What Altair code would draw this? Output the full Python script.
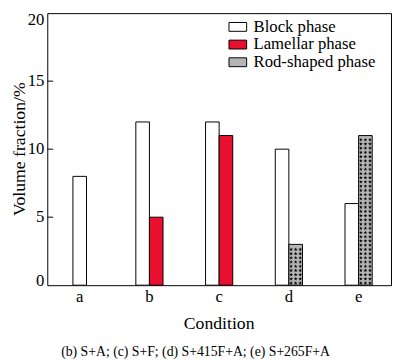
import altair as alt
import pandas as pd

# ---- data ----
categories = ["a", "b", "c", "d", "e"]
phases = ["Block phase", "Lamellar phase", "Rod-shaped phase"]
block = [8, 12, 12, 10, 6]
lamellar = [0, 5, 11, 0, 0]
rod = [0, 0, 0, 3, 11]
y_ticks = [0, 5, 10, 15, 20]
inner_ticks = [5, 10, 15]
x_title = "Condition"
y_title = "Volume fraction/%"
footnote = "(b) S+A; (c) S+F; (d) S+415F+A; (e) S+265F+A"

phase_colors = ["#ffffff", "#e8102e", "#b5b5b5"]
FONT = "Liberation Serif"
BAR_W = 0.195
W, H = 350, 277

rows = []
for i, c in enumerate(categories):
    vals = [(p, v) for p, v in zip(phases, (block[i], lamellar[i], rod[i])) if v > 0]
    n = len(vals)
    for k, (p, v) in enumerate(vals):
        left = i + (k - n / 2) * BAR_W
        rows.append(dict(cat=c, idx=i, phase=p, value=v, x0=left, x1=left + BAR_W))
bars = pd.DataFrame(rows)

# pattern (stars) inside rod-shaped bars
star_rows = []
for r in rows:
    if r["phase"] != "Rod-shaped phase":
        continue
    yy = 0.15
    while yy < r["value"] - 0.1:
        for f in (1 / 6, 3 / 6, 5 / 6):
            star_rows.append(dict(sx=r["x0"] + f * BAR_W, sy=yy))
        yy += 0.31
stars = pd.DataFrame(star_rows)

xscale = alt.Scale(domain=[-0.465, 4.465], nice=False, zero=False)
yscale = alt.Scale(domain=[0, 20], nice=False)

STAR = ("M0,-1L0.2245,-0.309L0.951,-0.309L0.363,0.118L0.588,0.809L0,0.382"
        "L-0.588,0.809L-0.363,0.118L-0.951,-0.309L-0.2245,-0.309Z")

bar_layer = alt.Chart(bars).mark_bar(stroke="black", strokeWidth=1).encode(
    x=alt.X("x0:Q", scale=xscale, axis=None),
    x2="x1:Q",
    y=alt.Y("value:Q", scale=yscale, axis=None),
    y2=alt.datum(0),
    fill=alt.Fill("phase:N", scale=alt.Scale(domain=phases, range=phase_colors),
                  legend=None),
)

star_layer = alt.Chart(stars).mark_point(
    shape=STAR, filled=True, size=17, color="black", opacity=1
).encode(
    x=alt.X("sx:Q", scale=xscale),
    y=alt.Y("sy:Q", scale=yscale),
)

tick_layer = alt.Chart(pd.DataFrame({"t": inner_ticks})).mark_rule(
    color="black", strokeWidth=1
).encode(
    y=alt.Y("t:Q", scale=yscale),
    x=alt.value(0),
    x2=alt.value(6),
)

# x tick labels
xlab = alt.Chart(pd.DataFrame({"idx": list(range(len(categories))), "cat": categories})
                 ).mark_text(font=FONT, fontSize=17, baseline="middle", color="black"
                             ).encode(x=alt.X("idx:Q", scale=xscale), y=alt.value(H + 12),
                                      text="cat:N")

# y tick labels (end labels kept inside the view like flush labels)
def ylab(vals, dy):
    df = pd.DataFrame({"v": vals, "s": [str(v) for v in vals]})
    return alt.Chart(df).mark_text(font=FONT, fontSize=17, align="right",
                                   baseline="middle", dy=dy, color="black").encode(
        y=alt.Y("v:Q", scale=yscale), x=alt.value(-3), text="s:N")

ylabels = [ylab([v for v in y_ticks if 0 < v < 20], 0),
           ylab([v for v in y_ticks if v == 0], -4),
           ylab([v for v in y_ticks if v == 20], 7)]

def free_text(txt, x, y, size, **kw):
    return alt.Chart(pd.DataFrame({"s": [txt]})).mark_text(
        font=FONT, fontSize=size, color="black", baseline="middle", **kw
    ).encode(x=alt.value(x), y=alt.value(y), text="s:N")

titles = [
    free_text(x_title, W / 2, H + 40, 18),
    free_text(y_title, -28, H / 2, 18, angle=270),
    free_text(footnote, 151, H + 68, 14),
]

# legend (drawn in the top-right corner of the plot)
legend_layers = []
for i, p in enumerate(phases):
    yc = 14 + 18 * i
    legend_layers.append(
        alt.Chart(pd.DataFrame({"s": [p]})).mark_rect(
            fill=phase_colors[i], stroke="black", strokeWidth=1
        ).encode(x=alt.value(185), x2=alt.value(203),
                 y=alt.value(yc - 4.5), y2=alt.value(yc + 4.5)))
    legend_layers.append(free_text(p, 210, yc, 17, align="left"))

chart = alt.layer(bar_layer, star_layer, tick_layer, xlab, *ylabels, *titles,
                  *legend_layers).properties(
    width=W,
    height=H,
    padding={"left": 40, "top": 2, "right": 1, "bottom": 76},
    autosize=alt.AutoSizeParams(type="none"),
).configure_view(
    stroke="black", strokeWidth=1
)

chart.save("out.html", embed_options={"renderer": "svg", "actions": False})
